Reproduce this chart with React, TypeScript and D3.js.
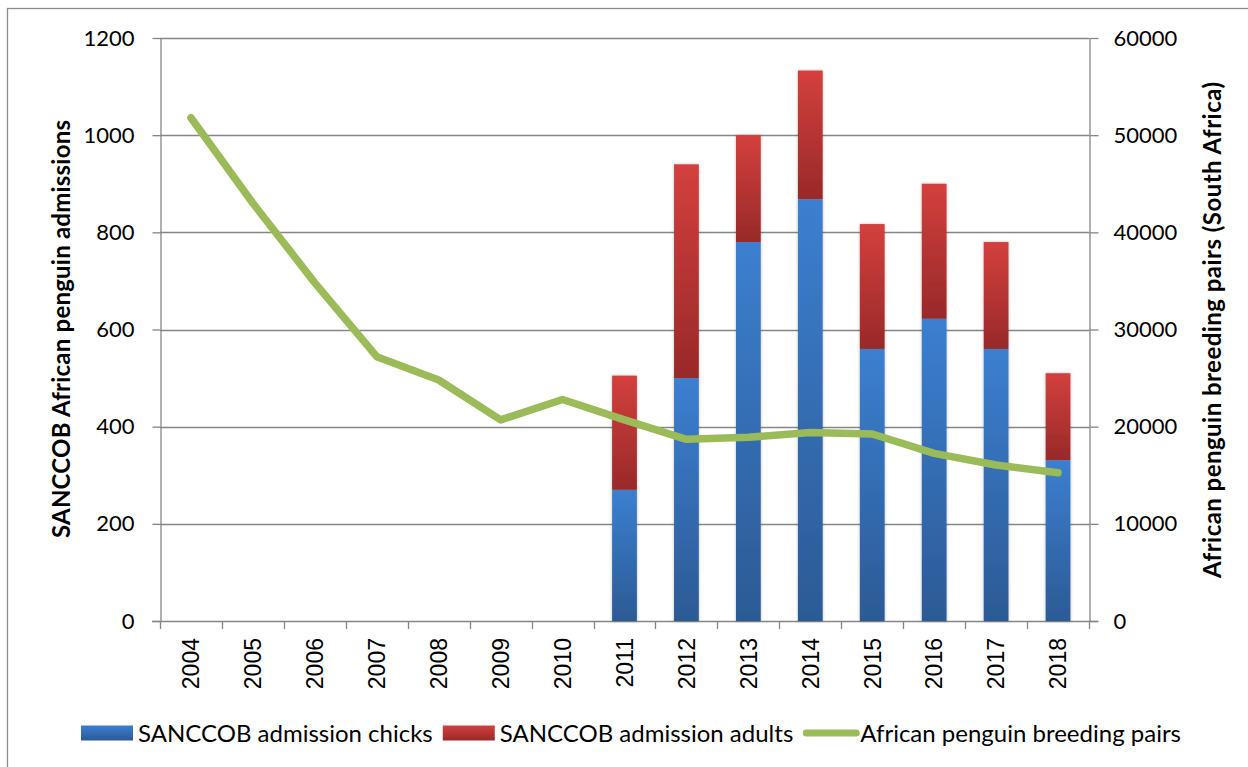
import { useEffect, useRef } from 'react'
import * as d3 from 'd3'

const WIDTH = 1248
const HEIGHT = 767
const PLOT_LEFT = 160
const PLOT_RIGHT = 1089
const PLOT_TOP = 38
const PLOT_BOTTOM = 621
const GRID_COLOR = '#868686'
const LINE_COLOR = '#9bbb59'
const SANS = 'Lato, Carlito, Calibri, sans-serif'

const years = [
  '2004', '2005', '2006', '2007', '2008', '2009', '2010', '2011',
  '2012', '2013', '2014', '2015', '2016', '2017', '2018',
]
// SANCCOB admissions (left axis)
const chicks: (number | null)[] = [
  null, null, null, null, null, null, null, 270, 500, 780, 868, 560, 622, 560, 331,
]
const adults: (number | null)[] = [
  null, null, null, null, null, null, null, 235, 440, 220, 265, 257, 278, 220, 179,
]
// breeding pairs (right axis)
const pairs = [
  51800, 43000, 34800, 27200, 24800, 20700, 22800, 20700, 18700, 18900, 19400,
  19250, 17250, 16050, 15250,
]
const leftTicks = [0, 200, 400, 600, 800, 1000, 1200]
const rightTicks = [0, 10000, 20000, 30000, 40000, 50000, 60000]

const seriesNames = [
  'SANCCOB admission chicks',
  'SANCCOB admission adults',
  'African penguin breeding pairs',
]

export default function App() {
  const svgRef = useRef<SVGSVGElement>(null)

  useEffect(() => {
    const el = svgRef.current
    if (!el) return
    const svg = d3.select(el)
    svg.selectAll('*').remove()

    const defs = svg.append('defs')
    const grad = (id: string, top: string, bottom: string) => {
      const g = defs
        .append('linearGradient')
        .attr('id', id)
        .attr('x1', 0)
        .attr('y1', 0)
        .attr('x2', 0)
        .attr('y2', 1)
      g.append('stop').attr('offset', '0%').attr('stop-color', top)
      g.append('stop').attr('offset', '100%').attr('stop-color', bottom)
    }
    grad('blueGrad', '#3c7fd0', '#2c5a95')
    grad('redGrad', '#d3403d', '#982929')
    const shadow = defs
      .append('filter')
      .attr('id', 'barShadow')
      .attr('x', '-30%')
      .attr('y', '-5%')
      .attr('width', '160%')
      .attr('height', '110%')
    shadow
      .append('feDropShadow')
      .attr('dx', 0)
      .attr('dy', 0)
      .attr('stdDeviation', 1.6)
      .attr('flood-color', '#000')
      .attr('flood-opacity', 0.28)

    // outer chart border (only top and left visible)
    svg
      .append('rect')
      .attr('x', 7.5)
      .attr('y', 8.5)
      .attr('width', WIDTH + 20)
      .attr('height', HEIGHT + 20)
      .attr('fill', '#fff')
      .attr('stroke', '#8c8c8c')
      .attr('stroke-width', 1.3)

    const x = d3
      .scaleBand<string>()
      .domain(years)
      .range([PLOT_LEFT, PLOT_RIGHT])
      .padding(0)
    const yLeft = d3.scaleLinear().domain([0, 1200]).range([PLOT_BOTTOM, PLOT_TOP])
    const yRight = d3.scaleLinear().domain([0, 60000]).range([PLOT_BOTTOM, PLOT_TOP])

    // gridlines
    svg
      .append('g')
      .selectAll('line')
      .data(leftTicks.slice(1))
      .join('line')
      .attr('x1', PLOT_LEFT)
      .attr('x2', PLOT_RIGHT)
      .attr('y1', (d) => Math.round(yLeft(d)) + 0.5)
      .attr('y2', (d) => Math.round(yLeft(d)) + 0.5)
      .attr('stroke', GRID_COLOR)
      .attr('stroke-width', 1.3)

    const styleAxis = (
      sel: d3.Selection<SVGGElement, unknown, null, undefined>
    ) => {
      sel.selectAll('.domain, .tick line').attr('stroke', GRID_COLOR).attr('stroke-width', 1.3)
      sel
        .selectAll('.tick text')
        .attr('fill', '#000')
        .style('font-family', SANS)
        .style('font-size', '22px')
    }

    svg
      .append('g')
      .attr('transform', `translate(${PLOT_LEFT + 0.5},0)`)
      .call(
        d3
          .axisLeft(yLeft)
          .tickValues(leftTicks)
          .tickSize(8)
          .tickSizeOuter(0)
          .tickPadding(18)
          .tickFormat((d) => String(d))
      )
      .call(styleAxis)

    svg
      .append('g')
      .attr('transform', `translate(${PLOT_RIGHT + 0.5},0)`)
      .call(
        d3
          .axisRight(yRight)
          .tickValues(rightTicks)
          .tickSize(9)
          .tickSizeOuter(0)
          .tickPadding(15)
          .tickFormat((d) => String(d))
      )
      .call(styleAxis)

    // bottom axis: ticks at category boundaries
    const xAxis = svg.append('g')
    xAxis
      .append('line')
      .attr('x1', PLOT_LEFT - 8)
      .attr('x2', PLOT_RIGHT + 9)
      .attr('y1', PLOT_BOTTOM + 0.5)
      .attr('y2', PLOT_BOTTOM + 0.5)
      .attr('stroke', GRID_COLOR)
      .attr('stroke-width', 1.3)
    const boundaries = years.map((y) => x(y) as number).concat([PLOT_RIGHT])
    xAxis
      .selectAll('line.tick')
      .data(boundaries)
      .join('line')
      .attr('class', 'tick')
      .attr('x1', (d) => Math.round(d) + 0.5)
      .attr('x2', (d) => Math.round(d) + 0.5)
      .attr('y1', PLOT_BOTTOM)
      .attr('y2', PLOT_BOTTOM + 8)
      .attr('stroke', GRID_COLOR)
      .attr('stroke-width', 1.3)
    xAxis
      .selectAll('text')
      .data(years)
      .join('text')
      .attr(
        'transform',
        (d) => `translate(${(x(d) as number) + x.bandwidth() / 2},${PLOT_BOTTOM + 17}) rotate(-90)`
      )
      .attr('text-anchor', 'end')
      .attr('dy', '0.36em')
      .style('font-family', '"Liberation Sans", Arial, sans-serif')
      .style('font-size', '23px')
      .attr('fill', '#000')
      .text((d) => d)

    // stacked bars
    const barW = x.bandwidth() * 0.4
    const bars = svg.append('g').attr('filter', 'url(#barShadow)')
    years.forEach((yr, i) => {
      const c = chicks[i]
      const a = adults[i]
      if (c == null) return
      const bx = (x(yr) as number) + (x.bandwidth() - barW) / 2
      bars
        .append('rect')
        .attr('x', bx)
        .attr('width', barW)
        .attr('y', yLeft(c))
        .attr('height', yLeft(0) - yLeft(c))
        .attr('fill', 'url(#blueGrad)')
      if (a != null) {
        bars
          .append('rect')
          .attr('x', bx)
          .attr('width', barW)
          .attr('y', yLeft(c + a))
          .attr('height', yLeft(c) - yLeft(c + a))
          .attr('fill', 'url(#redGrad)')
      }
    })

    // breeding pairs line
    const line = d3
      .line<number>()
      .x((_, i) => (x(years[i]) as number) + x.bandwidth() / 2)
      .y((d) => yRight(d))
    svg
      .append('path')
      .datum(pairs)
      .attr('d', line)
      .attr('fill', 'none')
      .attr('stroke', LINE_COLOR)
      .attr('stroke-width', 7.5)
      .attr('stroke-linecap', 'round')
      .attr('stroke-linejoin', 'round')

    // axis titles
    svg
      .append('text')
      .attr('transform', `translate(61,329) rotate(-90)`)
      .attr('text-anchor', 'middle')
      .attr('dy', '0.36em')
      .attr('textLength', 418)
      .attr('lengthAdjust', 'spacing')
      .style('font-family', SANS)
      .style('font-weight', 700)
      .style('font-size', '24px')
      .attr('fill', '#000')
      .text('SANCCOB African penguin admissions')
    svg
      .append('text')
      .attr('transform', `translate(1212,330) rotate(-90)`)
      .attr('text-anchor', 'middle')
      .attr('dy', '0.36em')
      .attr('textLength', 496)
      .attr('lengthAdjust', 'spacing')
      .style('font-family', SANS)
      .style('font-weight', 700)
      .style('font-size', '24px')
      .attr('fill', '#000')
      .text('African penguin breeding pairs (South Africa)')

    // legend
    const legend = svg.append('g').attr('transform', 'translate(81,733)')
    let cx = 0
    seriesNames.forEach((name, i) => {
      if (i < 2) {
        legend
          .append('rect')
          .attr('x', cx)
          .attr('y', -7.5)
          .attr('width', 52)
          .attr('height', 15)
          .attr('fill', i === 0 ? 'url(#blueGrad)' : 'url(#redGrad)')
      } else {
        legend
          .append('line')
          .attr('x1', cx + 3)
          .attr('x2', cx + 53)
          .attr('y1', 0)
          .attr('y2', 0)
          .attr('stroke', LINE_COLOR)
          .attr('stroke-width', 7)
          .attr('stroke-linecap', 'round')
      }
      const t = legend
        .append('text')
        .attr('x', cx + 57)
        .attr('dy', '0.36em')
        .style('font-family', SANS)
        .style('font-size', '24px')
        .attr('fill', '#000')
        .text(name)
      const w = (t.node() as SVGTextElement).getComputedTextLength()
      cx += 57 + w + 10
    })
  }, [])

  return (
    <svg
      ref={svgRef}
      width={WIDTH}
      height={HEIGHT}
      style={{ position: 'absolute', left: 0, top: 0, background: '#fff' }}
    />
  )
}
